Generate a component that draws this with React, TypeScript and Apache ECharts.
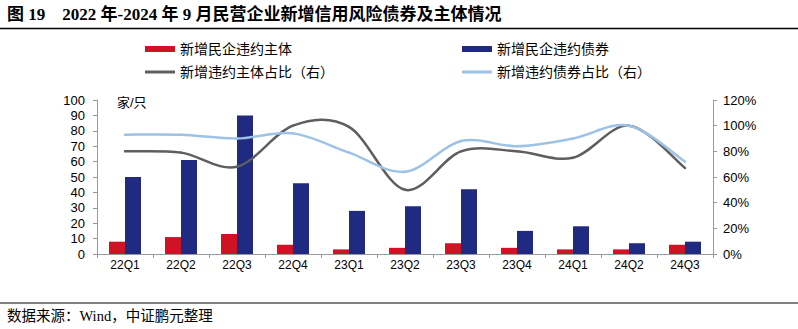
import React, { useEffect, useRef } from 'react';
import * as echarts from 'echarts';

const categories = ['22Q1', '22Q2', '22Q3', '22Q4', '23Q1', '23Q2', '23Q3', '23Q4', '24Q1', '24Q2', '24Q3'];
const newDefaultIssuers = [8, 11, 13, 6, 3, 4, 7, 4, 3, 3, 6];
const newDefaultBonds = [50, 61, 90, 46, 28, 31, 42, 15, 18, 7, 8];
const issuerShare = [80, 79, 68, 100, 99, 50, 80, 80, 75, 100, 67];
const bondShare = [93, 93, 90, 94, 79, 64, 88, 84, 90, 100, 72];

const seriesNames = ['新增民企违约主体', '新增民企违约债券', '新增违约主体占比（右）', '新增违约债券占比（右）'];
const titleText = '图 19    2022 年-2024 年 9 月民营企业新增信用风险债券及主体情况';
const sourceText = '数据来源：Wind，中证鹏元整理';
const unitText = '家/只';

const COLORS = ['#CE1424', '#1F2A80', '#5E5E5E', '#9CC2E6'];
const SANS = "'Liberation Sans', Arial, 'Noto Sans CJK SC', sans-serif";
const CJK = "'Liberation Sans', 'Noto Sans CJK SC', sans-serif";
const SERIF = "'Liberation Serif', 'Noto Sans CJK SC', serif";

// Catmull-Rom style smoothed segment (like spreadsheet "smoothed line"), drawn via axis coords
function smoothRender(values: number[], color: string) {
  return (params: any, api: any) => {
    const i = params.dataIndex;
    const n = values.length;
    if (i >= n - 1) return { type: 'group', children: [] };
    const c = (k: number) => {
      const kk = Math.max(0, Math.min(n - 1, k));
      return api.coord([kk, values[kk]]);
    };
    const p0 = c(i - 1);
    const p1 = c(i);
    const p2 = c(i + 1);
    const p3 = c(i + 2);
    return {
      type: 'bezierCurve',
      shape: {
        x1: p1[0],
        y1: p1[1],
        x2: p2[0],
        y2: p2[1],
        cpx1: p1[0] + (p2[0] - p0[0]) / 6,
        cpy1: p1[1] + (p2[1] - p0[1]) / 6,
        cpx2: p2[0] - (p3[0] - p1[0]) / 6,
        cpy2: p2[1] - (p3[1] - p1[1]) / 6,
      },
      style: { stroke: color, lineWidth: 2.5, fill: null, lineCap: 'round' },
    };
  };
}

export default function App() {
  const ref = useRef<HTMLDivElement>(null);
  useEffect(() => {
    if (!ref.current) return;
    const chart = echarts.init(ref.current, undefined, { renderer: 'svg' });
    const legendPos = [
      { left: 145, top: 42, h: 6 },
      { left: 462, top: 42, h: 6 },
      { left: 145, top: 65, h: 3 },
      { left: 462, top: 65, h: 3 },
    ];
    chart.setOption({
      animation: false,
      backgroundColor: '#fff',
      legend: seriesNames.map((n, i) => ({
        data: [{ name: n, itemStyle: { color: COLORS[i] } }],
        left: legendPos[i].left,
        top: legendPos[i].top,
        padding: 0,
        icon: 'rect',
        itemWidth: 30,
        itemHeight: legendPos[i].h,
        itemGap: 0,
        selectedMode: false,
        textStyle: { fontSize: 14, fontFamily: CJK, color: '#000' },
      })),
      grid: { left: 97, right: 85, top: 100, bottom: 75, containLabel: false },
      xAxis: {
        type: 'category',
        data: categories,
        axisLine: { lineStyle: { color: '#999', width: 1 } },
        axisTick: { show: true, length: 4, interval: 0, lineStyle: { color: '#999' } },
        axisLabel: { fontSize: 12, fontFamily: SANS, color: '#000', margin: 5, interval: 0 },
      },
      yAxis: [
        {
          type: 'value',
          min: 0,
          max: 100,
          interval: 10,
          axisLine: { show: true, lineStyle: { color: '#999' } },
          axisTick: { show: true, length: 4, lineStyle: { color: '#999' } },
          axisLabel: { fontSize: 13, fontFamily: SANS, color: '#000', margin: 12 },
          splitLine: { show: false },
        },
        {
          type: 'value',
          min: 0,
          max: 120,
          interval: 20,
          position: 'right',
          axisLine: { show: true, lineStyle: { color: '#999' } },
          axisTick: { show: true, length: 4, lineStyle: { color: '#999' } },
          axisLabel: { fontSize: 13, fontFamily: SANS, color: '#000', margin: 10, formatter: '{value}%' },
          splitLine: { show: false },
        },
      ],
      series: [
        {
          name: seriesNames[0],
          type: 'bar',
          data: newDefaultIssuers,
          barWidth: 16,
          barGap: '0%',
          itemStyle: { color: COLORS[0] },
        },
        {
          name: seriesNames[1],
          type: 'bar',
          data: newDefaultBonds,
          barWidth: 16,
          barGap: '0%',
          itemStyle: { color: COLORS[1] },
        },
        {
          name: seriesNames[2],
          type: 'custom',
          yAxisIndex: 1,
          data: issuerShare.map((v, i) => [i, v]),
          encode: { x: 0, y: 1 },
          renderItem: smoothRender(issuerShare, COLORS[2]),
          itemStyle: { color: COLORS[2] },
          z: 3,
        },
        {
          name: seriesNames[3],
          type: 'custom',
          yAxisIndex: 1,
          data: bondShare.map((v, i) => [i, v]),
          encode: { x: 0, y: 1 },
          renderItem: smoothRender(bondShare, COLORS[3]),
          itemStyle: { color: COLORS[3] },
          z: 4,
        },
      ],
      graphic: [
        {
          type: 'text',
          left: 7,
          top: 6,
          style: { text: titleText, font: `bold 17px ${SERIF}`, fill: '#000' },
        },
        {
          type: 'line',
          shape: { x1: 0, y1: 28.5, x2: 798, y2: 28.5 },
          style: { stroke: '#000', lineWidth: 1.5 },
        },
        {
          type: 'text',
          left: 117,
          top: 96,
          style: { text: unitText, font: `13px ${CJK}`, fill: '#000' },
        },
        {
          type: 'line',
          shape: { x1: 0, y1: 303, x2: 798, y2: 303 },
          style: { stroke: '#000', lineWidth: 1.2 },
        },
        {
          type: 'text',
          left: 7,
          top: 309,
          style: { text: sourceText, font: `14.5px ${SERIF}`, fill: '#000' },
        },
      ],
    });
    return () => chart.dispose();
  }, []);
  return (
    <div style={{ position: 'absolute', left: 0, top: 0, width: 798, height: 329, background: '#fff' }}>
      <div ref={ref} style={{ width: 798, height: 329 }} />
    </div>
  );
}
